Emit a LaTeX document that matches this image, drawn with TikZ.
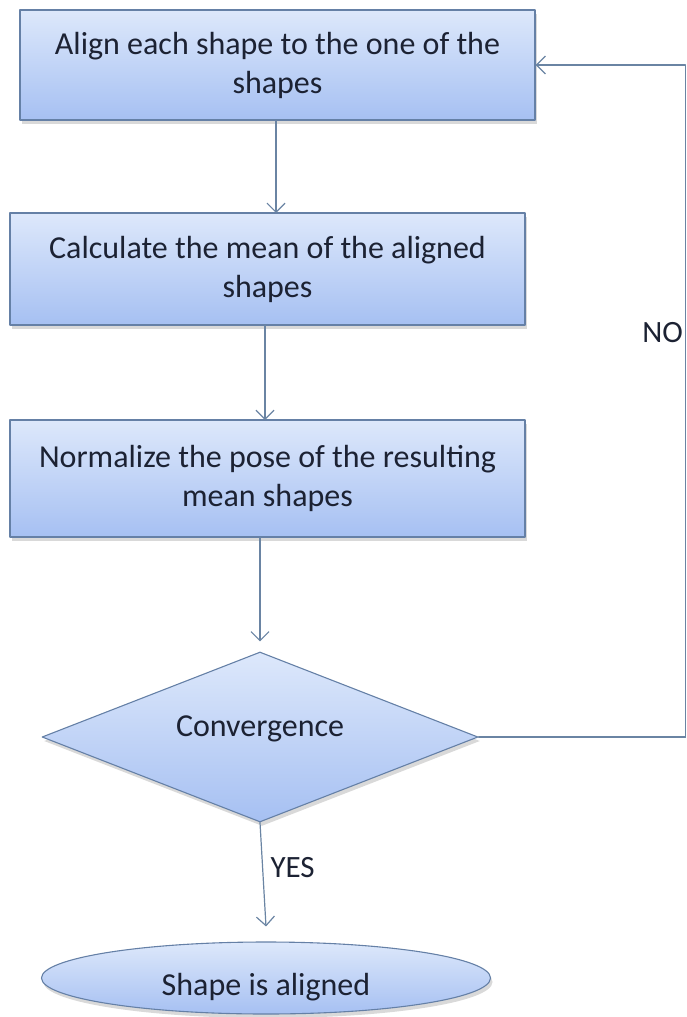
\documentclass[tikz,border=0pt]{standalone}
\usepackage{fontspec}
\setmainfont{Carlito}
\usepackage{tikz}
\usetikzlibrary{arrows.meta,calc,shadows,shapes.geometric}
\definecolor{flowline}{HTML}{6A84A3}
\definecolor{flowedge}{HTML}{6580A6}
\definecolor{flowtop}{HTML}{DDE8FB}
\definecolor{flowbot}{HTML}{A6C0F2}
\definecolor{flowtext}{HTML}{1C2233}
\tikzset{
  every picture/.append style={line cap=round,line join=round},
  flow text/.style={font=\fontsize{32}{39}\selectfont,text=flowtext,align=center},
  flow fill/.style={draw=flowedge,line width=1.1pt,top color=flowtop,bottom color=flowbot,
    drop shadow={shadow xshift=2pt,shadow yshift=-4pt,opacity=0.25,fill=black!60}},
  flow box/.style={flow fill,flow text,rectangle,inner sep=0pt,minimum width=515pt},
  flow decision/.style={flow fill,flow text,diamond,aspect=2.56,inner sep=0pt,minimum width=436pt,minimum height=170pt},
  flow end/.style={flow fill,flow text,ellipse,inner sep=0pt,minimum width=449pt,minimum height=72pt},
  flow arrow/.style={flowline,line width=1.2pt,-{Straight Barb[length=9pt,width=18pt]}},
  flow line/.style={flowline,line width=1.2pt},
  flow label/.style={font=\fontsize{31}{36}\selectfont,text=flowtext}
}
\begin{document}
\begin{tikzpicture}[x=1pt,y=-1pt]
  \useasboundingbox (0,0) rectangle (687,1017);
  \node[flow box,minimum height=110pt] (align) at (277.5,65) {Align each shape to the one of the\\shapes};
  \node[flow box,minimum height=112pt] (mean) at (267.5,269) {Calculate the mean of the aligned\\shapes};
  \node[flow box,minimum height=117pt] (pose) at (267.5,478.5) {Normalize the pose of the resulting\\mean shapes};
  \node[flow decision] (conv) at (260,737) {\smash{\raisebox{1pt}{Convergence}}};
  \node[flow end] (done) at (266,978) {\smash{\raisebox{-17pt}{Shape is aligned}}};
  \coordinate (corner) at (685.5,737);
  \draw[flow arrow] (align.south -| 276,0) -- (276,213);
  \draw[flow arrow] (265,325) -- (265,420);
  \draw[flow arrow] (pose.south -| conv.north) -- ($(conv.north)+(0,-10)$);
  \draw[flow arrow] (conv.south) -- node[flow label,right=4pt,pos=0.43] (yes) {YES} ($(done.north)+(0,-15)$);
  \draw[flow line] (conv.east) -- (corner);
  \draw[flow arrow] (corner) -- (corner |- align.east) -- (align.east);
  \node[flow label,anchor=east,inner sep=1pt] (no) at (684,333) {NO};
\end{tikzpicture}
\end{document}
